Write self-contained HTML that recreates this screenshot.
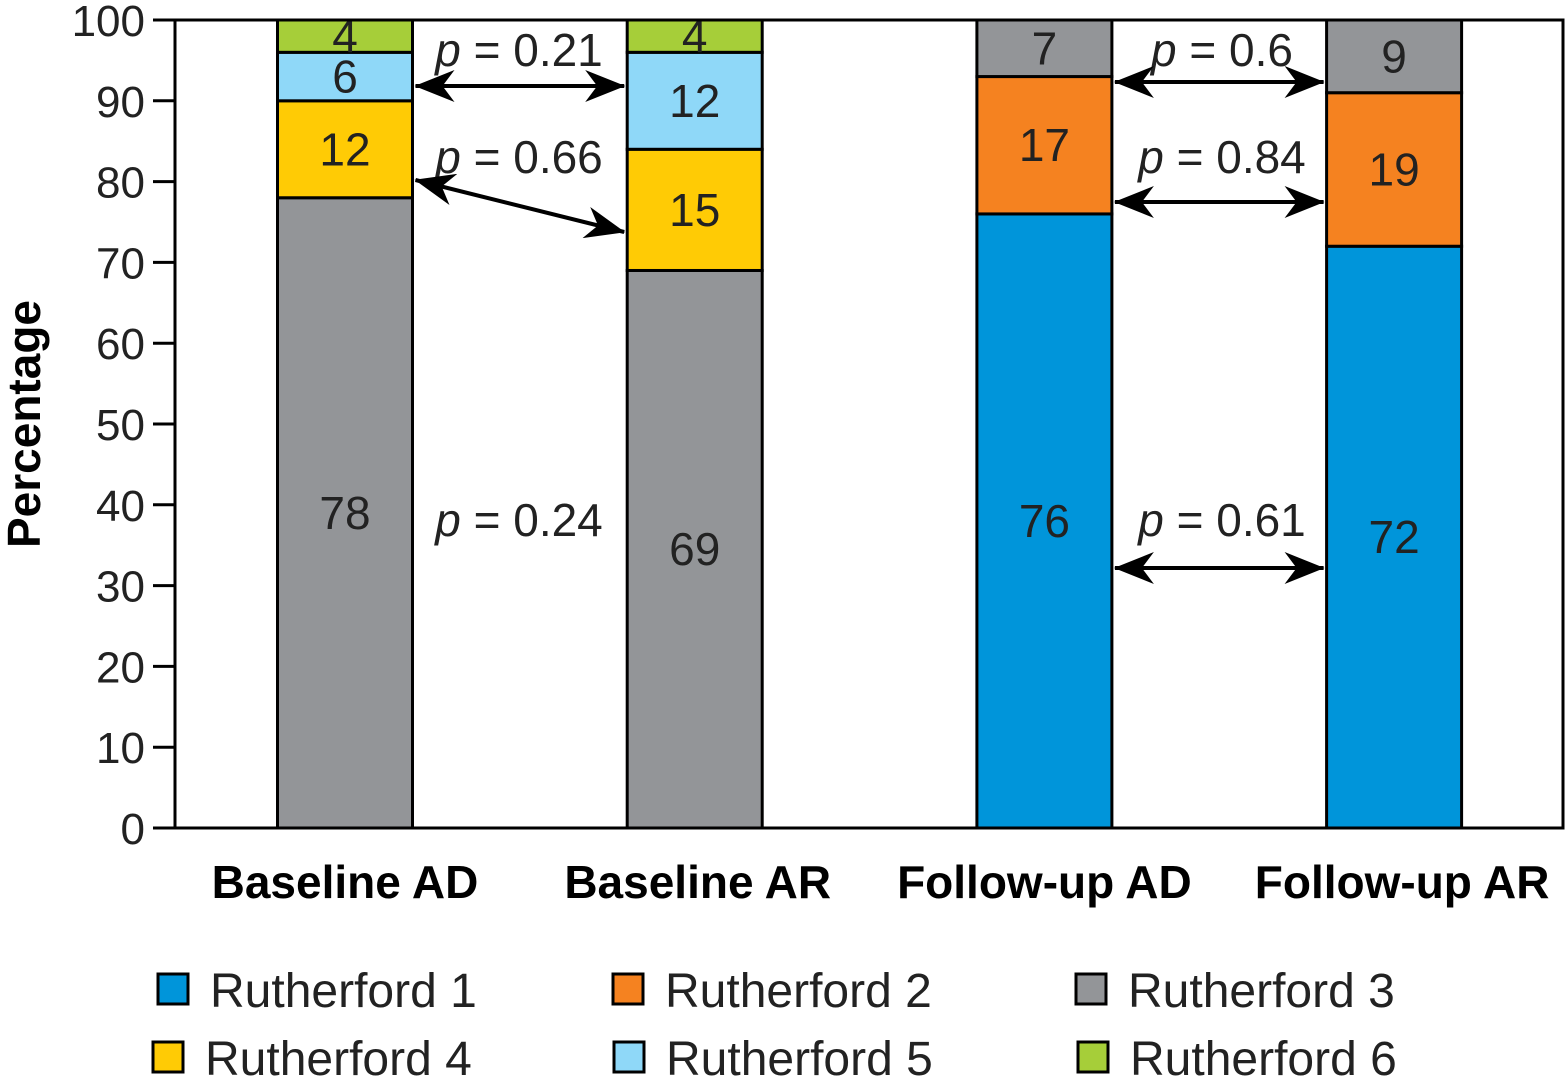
<!DOCTYPE html>
<html><head><meta charset="utf-8"><style>
html,body{margin:0;padding:0;background:#fff;}
svg{display:block;font-family:"Liberation Sans",sans-serif;}
</style></head><body>
<svg id="chart" width="1566" height="1080" viewBox="0 0 1566 1080">
<defs>
<marker id="ah" viewBox="0 0 40 32" refX="39" refY="16" markerWidth="40" markerHeight="32" markerUnits="userSpaceOnUse" orient="auto-start-reverse">
<path d="M0,0 L40,16 L0,32 L12,16 Z" fill="#000"/>
</marker>
</defs>
<g id="bars"></g>
<g id="axes"></g>
<g id="annot"></g>
<g id="legend"></g>
</svg>
<script>
const categories = ["Baseline AD","Baseline AR","Follow-up AD","Follow-up AR"];
const seriesNames = ["Rutherford 1","Rutherford 2","Rutherford 3","Rutherford 4","Rutherford 5","Rutherford 6"];
const r1 = [0,0,76,72];
const r2 = [0,0,17,19];
const r3 = [78,69,7,9];
const r4 = [12,15,0,0];
const r5 = [6,12,0,0];
const r6 = [4,4,0,0];
const yTicks = [0,10,20,30,40,50,60,70,80,90,100];
const pLabels = ["p = 0.21","p = 0.66","p = 0.24","p = 0.6","p = 0.84","p = 0.61"];

const colors = ["#0095da","#f58220","#939598","#ffcb05","#8fd8f8","#a6ce39"];
const series = [r1,r2,r3,r4,r5,r6];
const NS="http://www.w3.org/2000/svg";
const X0=175,X1=1563,Y0=828,Y1=20;
const y = v => Y0 - (v/100)*(Y0-Y1);
const xc = i => 345 + i*349.7;
const BW=135;
function mk(tag,attrs,parent){const e=document.createElementNS(NS,tag);for(const k in attrs)e.setAttribute(k,attrs[k]);parent.appendChild(e);return e;}

const gb=document.getElementById('bars');
categories.forEach((c,i)=>{
  let cum=0;
  series.forEach((s,k)=>{
    const v=s[i]; if(!v) return;
    const r=mk('rect',{x:xc(i)-BW/2,y:y(cum+v),width:BW,height:y(cum)-y(cum+v),fill:colors[k],stroke:'#000','stroke-width':3},gb);
    
    
    const t=mk('text',{x:xc(i),y:(y(cum)+y(cum+v))/2+16,'text-anchor':'middle','font-size':46,fill:'#222'},gb);
    t.textContent=v;
    
    
    cum+=v;
  });
  const xl=mk('text',{x:xc(i)+(i==1?3:i==3?8:0),y:898,'text-anchor':'middle','font-size':46,'font-weight':'bold',fill:'#000'},gb);
  xl.textContent=c;
  
  
});

const ga=document.getElementById('axes');
mk('rect',{x:X0,y:Y1,width:X1-X0,height:Y0-Y1,fill:'none',stroke:'#000','stroke-width':3},ga);
yTicks.forEach(v=>{
  const l=mk('line',{x1:X0-22,x2:X0,y1:y(v),y2:y(v),stroke:'#000','stroke-width':3},ga);
  
  
  const t=mk('text',{x:X0-30,y:y(v)+16,'text-anchor':'end','font-size':44,fill:'#222'},ga);
  t.textContent=v;
  
  
});
const yt=mk('text',{x:0,y:0,transform:'translate(40,424) rotate(-90)','text-anchor':'middle','font-size':46,'font-weight':'bold',fill:'#000'},ga);
yt.textContent='Percentage';



const gn=document.getElementById('annot');
const pPos=[[519,66],[519,173],[519,536],[1222,66],[1222,173],[1222,536]];
pLabels.forEach((p,i)=>{
  const t=mk('text',{x:pPos[i][0],y:pPos[i][1],'text-anchor':'middle','font-size':46,fill:'#222'},gn);
  const parts=p.split(' ');
  const ti=mk('tspan',{'font-style':'italic'},t); ti.textContent=parts[0];
  const tr=mk('tspan',{},t); tr.textContent=' '+parts.slice(1).join(' ');
  
  
});
const arrows=[[86,86,0],[180,232,0],[82,82,2],[202,202,2],[568,568,2]];
arrows.forEach(a=>{
  const x1=xc(a[2])+BW/2+3,x2=xc(a[2]+1)-BW/2-3;
  const l=mk('line',{x1:x1,y1:a[0],x2:x2,y2:a[1],stroke:'#000','stroke-width':4,'marker-start':'url(#ah)','marker-end':'url(#ah)'},gn);
  
  
});

const gl=document.getElementById('legend');
const legPos=[[158,990],[613,990],[1076,990],[153,1058],[614,1058],[1078,1058]];
seriesNames.forEach((n,k)=>{
  const [lx,ly]=legPos[k];
  const r=mk('rect',{x:lx,y:ly-16,width:30,height:30,fill:colors[k],stroke:'#000','stroke-width':3},gl);
  
  
  const t=mk('text',{x:lx+52,y:ly+17,'font-size':48,fill:'#222'},gl);
  t.textContent=n;
  
  
});
</script>
</body></html>
